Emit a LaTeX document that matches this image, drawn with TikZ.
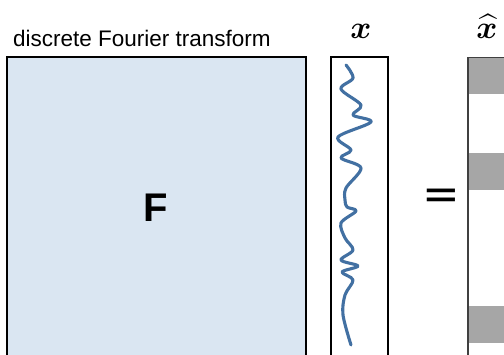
\documentclass[tikz,border=0pt]{standalone}
\usepackage{fontspec}
\usepackage{amsmath,bm}
\usepackage{graphicx}
\newfontfamily\arialfont{Liberation Sans}
\newfontfamily\dejafont{DejaVu Sans}
\definecolor{matblue}{RGB}{218,230,242}
\definecolor{wavecol}{RGB}{66,112,162}
\definecolor{bandgray}{RGB}{166,166,166}
\begin{document}
\begin{tikzpicture}[x=1pt,y=-1pt,
  bigbox/.style={draw=black, line width=1.8pt, fill=matblue, inner sep=0pt, anchor=north west},
  vecbox/.style={draw=black, line width=1.8pt, fill=white, inner sep=0pt, anchor=north west},
  hatbox/.style={draw=black!75, line width=1.5pt, inner sep=0pt, anchor=north west},
  band/.style={fill=bandgray, draw=none, inner sep=0pt, anchor=north west, minimum width=60pt, minimum height=37pt},
  wave/.style={draw=wavecol, line width=3.1pt, line cap=round, line join=round},
  lbl/.style={inner sep=0pt}]
\useasboundingbox (0,0) rectangle (504,354);
\clip (0,0) rectangle (504,354);
\fill[white] (0,0) rectangle (504,354);
% matrix F
\node[bigbox, minimum width=299pt, minimum height=320pt] (F) at (6,56) {};
\node[lbl] (Flabel) at (156,208) {\arialfont\fontsize{40}{44}\selectfont\bfseries F};
\node[lbl, anchor=base west] (title) at (13,46.5) {\arialfont\fontsize{22.5}{26}\selectfont discrete Fourier transform};
% vector x
\node[vecbox, minimum width=57pt, minimum height=320pt] (X) at (330,56) {};
\draw[wave] plot[smooth, tension=0.55] coordinates {
 (346,65) (353,78) (341,89) (361,105) (353,115) (371,122) (338,137) (351,150)
 (341,158) (361,168) (346,188) (345,200) (347,207) (356,211) (341,223) (345,238)
 (353,250) (341,260) (358,266) (342,272) (353,280) (345,295) (343,315) (351,345)};
\node[lbl, anchor=base] (xlabel) at (361,38) {\scalebox{3.2}{$\bm{x}$}};
% equals
\node[lbl, anchor=base] (eq) at (441,209.5) {\dejafont\fontsize{45}{50}\selectfont =};
% vector x hat
\node[band] (b1) at (467,57) {};
\node[band] (b2) at (467,153) {};
\node[band] (b3) at (467,306) {};
\node[hatbox, minimum width=60pt, minimum height=320pt] (XH) at (467,56.5) {};
\node[lbl, anchor=base] (xhlabel) at (487,38) {\scalebox{3.2}{$\widehat{\bm{x}}$}};
\end{tikzpicture}
\end{document}
